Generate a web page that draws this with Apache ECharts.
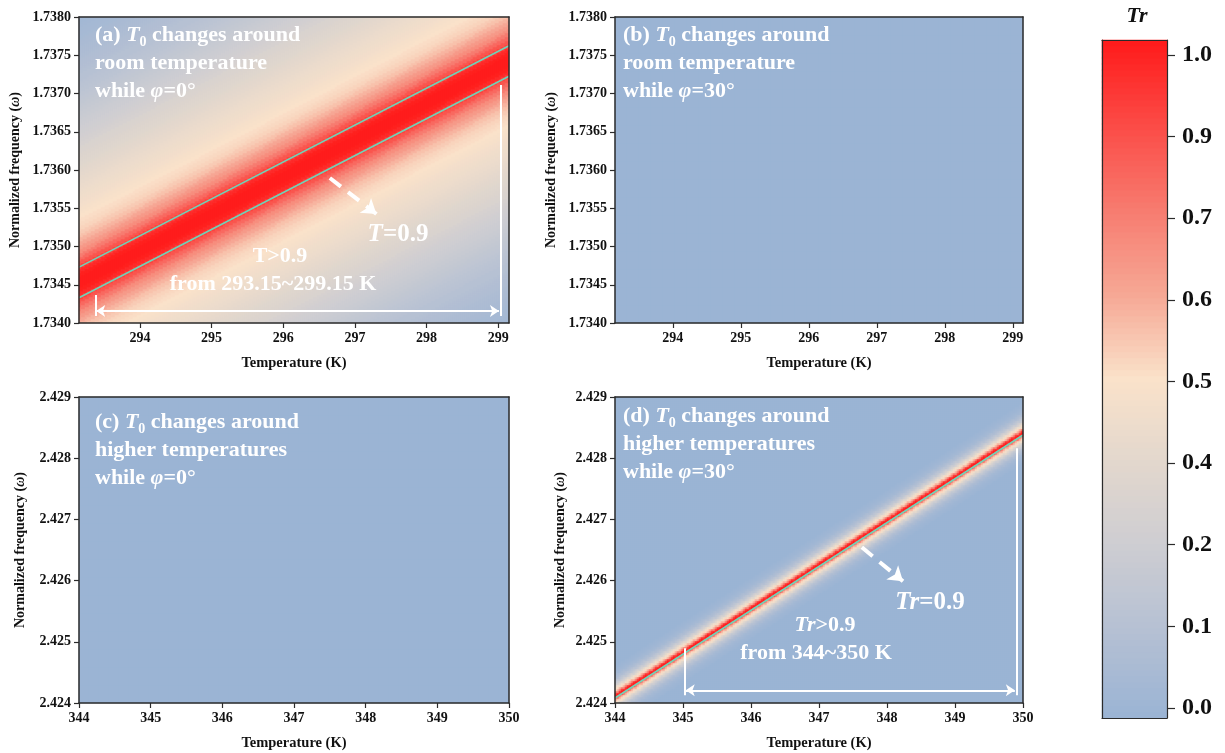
<!DOCTYPE html>
<html><head><meta charset="utf-8">
<script src="https://cdn.jsdelivr.net/npm/echarts@6/dist/echarts.min.js"></script>
<style>html,body{margin:0;padding:0;background:#fff}#c{width:1225px;height:753px}</style>
</head><body><div id="c"></div>
<script>
// ---------------- DATA ----------------
const tempRoom = [293.15, 299.15];          // x range of (a),(b)  [K]
const tempHigh = [344, 350];                // x range of (c),(d)  [K]
const freqRoom = [1.7340, 1.7380];          // y range of (a),(b)
const freqHigh = [2.424, 2.429];            // y range of (c),(d)
const xTicksRoom = [294, 295, 296, 297, 298, 299];
const barTickLabels = ['0.0', '0.1', '0.2', '0.4', '0.5', '0.6', '0.7', '0.9', '1.0'];

// centre of the transmission band (T, ω) at the two panel edges
const centreA = [[293.15, 1.73453], [299.15, 1.737425]];
const centreD = [[344, 2.42411], [350, 2.42841]];
// Tr = 0.9 contour lines
const contourA1 = [[293.15, 1.73473], [299.15, 1.737625]];
const contourA2 = [[293.15, 1.73433], [299.15, 1.737225]];
const contourD1 = [[344, 2.42408], [350, 2.42838]];

// cross-section of Tr versus vertical distance from the band centre
const profileStepA = 0.00005;
const profileA = [1.00, 1.00, 0.99, 0.96, 0.90, 0.85, 0.80, 0.75, 0.70, 0.665,
  0.63, 0.60, 0.57, 0.55, 0.53, 0.52, 0.51, 0.50, 0.49, 0.48,
  0.47, 0.46, 0.45, 0.44, 0.43, 0.42, 0.41, 0.40, 0.39, 0.38,
  0.37, 0.36, 0.35, 0.34, 0.33, 0.32, 0.305, 0.29, 0.28, 0.27,
  0.26, 0.25, 0.24, 0.23, 0.22, 0.21, 0.20, 0.19, 0.18, 0.17,
  0.16, 0.152, 0.144, 0.136, 0.13, 0.122, 0.115, 0.108, 0.10, 0.093,
  0.086, 0.08, 0.07, 0.065, 0.06, 0.055, 0.05, 0.045, 0.04, 0.035, 0.03];
const profileStepD = 0.000025;
const profileD = [1.0, 0.94, 0.75, 0.60, 0.52, 0.45, 0.37, 0.30, 0.24, 0.19,
  0.15, 0.12, 0.09, 0.07, 0.05, 0.04, 0.03, 0.02, 0.015, 0.01, 0.0];
const trFlatB = 0;   // panel (b): Tr ~ 0 everywhere
const trFlatC = 0;   // panel (c): Tr ~ 0 everywhere

// annotation marks (data coordinates)
const arrowA = [[296.65, 1.735895], [297.30, 1.735425]];
const spanA = [[293.39, 1.734157], [299.01, 1.734157]];
const barLA = [[293.38, 1.734366], [293.38, 1.734092]];
const barRA = [[299.03, 1.737111], [299.03, 1.734092]];
const arrowD = [[347.63, 2.426544], [348.235, 2.425989]];
const spanD = [[345.04, 2.424208], [349.88, 2.424208]];
const barLD = [[345.03, 2.424894], [345.03, 2.424126]];
const barRD = [[349.91, 2.428162], [349.91, 2.424126]];

// ---------------- BUILD ----------------
const serif = 'Liberation Serif';
const axisColor = '#2b2b2b';
const palette = ['#9bb4d4', '#b5c0d3', '#cdcdd2', '#e2d7cd', '#fae2ca', '#f6a895', '#f77c70', '#fb4c47', '#ff1c1c'];

function buildField(T, F, nx, ny, centre, step, profile, flat) {
  const data = [];
  const slope = centre ? (centre[1][1] - centre[0][1]) / (centre[1][0] - centre[0][0]) : 0;
  for (let i = 0; i < nx; i++) {
    const t = T[0] + (i + 0.5) * (T[1] - T[0]) / nx;
    const fc = centre ? centre[0][1] + slope * (t - centre[0][0]) : 0;
    for (let j = 0; j < ny; j++) {
      if (!centre) { data.push([i, j, flat]); continue; }
      const f = F[0] + (j + 0.5) * (F[1] - F[0]) / ny;
      let k = Math.round(Math.abs(f - fc) / step);
      if (k >= profile.length) k = profile.length - 1;
      data.push([i, j, profile[k]]);
    }
  }
  return data;
}
const idx = n => Array.from({length: n}, (_, i) => i);

const panels = [
  {grid: {left: 79, top: 17, width: 430, height: 306}, T: tempRoom, F: freqRoom, yInt: 0.0005, dec: 4,
   nx: 215, ny: 153, centre: centreA, step: profileStepA, profile: profileA, flat: 0, yGap: 57, custom: xTicksRoom},
  {grid: {left: 615, top: 17, width: 408, height: 306}, T: tempRoom, F: freqRoom, yInt: 0.0005, dec: 4,
   nx: 34, ny: 17, centre: null, flat: trFlatB, yGap: 57, custom: xTicksRoom},
  {grid: {left: 79, top: 397, width: 430, height: 306}, T: tempHigh, F: freqHigh, yInt: 0.001, dec: 3,
   nx: 43, ny: 17, centre: null, flat: trFlatC, yGap: 52, custom: null},
  {grid: {left: 615, top: 397, width: 408, height: 306}, T: tempHigh, F: freqHigh, yInt: 0.001, dec: 3,
   nx: 204, ny: 153, centre: centreD, step: profileStepD, profile: profileD, flat: 0, yGap: 48, custom: null}
];

const grids = [], xAxes = [], yAxes = [], series = [];
const lineStyleAxis = {color: axisColor, width: 1.5};
const labelStyle = {fontFamily: serif, fontWeight: 'bold', fontSize: 14, color: '#111'};
const nameStyle = {fontFamily: serif, fontWeight: 'bold', fontSize: 14.5, color: '#111'};

panels.forEach((p, g) => {
  grids.push(Object.assign({containLabel: false, show: true, backgroundColor: palette[0], borderWidth: 0}, p.grid));
  const xv = {type: 'value', gridIndex: g, min: p.T[0], max: p.T[1], position: 'bottom', z: 10,
    axisLine: {show: true, onZero: false, lineStyle: lineStyleAxis},
    axisTick: {show: true, inside: false, length: 5, lineStyle: {color: axisColor, width: 1.2}},
    axisLabel: Object.assign({margin: 8, formatter: v => String(Math.round(v))}, labelStyle),
    splitLine: {show: false},
    name: 'Temperature (K)', nameLocation: 'middle', nameGap: 33, nameTextStyle: nameStyle};
  if (p.custom) {
    xv.axisTick.customValues = p.custom;
    xv.axisLabel.customValues = p.custom;
  } else {
    xv.interval = 1;
  }
  xAxes.push(xv);
  xAxes.push({type: 'category', gridIndex: g, data: idx(p.nx), position: 'top', z: 10,
    axisLine: {show: true, onZero: false, lineStyle: lineStyleAxis}, axisTick: {show: false}, axisLabel: {show: false}, splitLine: {show: false}});
  yAxes.push({type: 'value', gridIndex: g, min: p.F[0], max: p.F[1], interval: p.yInt, position: 'left', z: 10,
    axisLine: {show: true, onZero: false, lineStyle: lineStyleAxis},
    axisTick: {show: true, inside: false, length: 5, lineStyle: {color: axisColor, width: 1.2}},
    axisLabel: Object.assign({margin: 8, formatter: v => v.toFixed(p.dec)}, labelStyle),
    splitLine: {show: false},
    name: '{b|Normalized frequency (}{i|ω}{b|)}', nameLocation: 'middle', nameGap: p.yGap,
    nameTextStyle: {rich: {
      b: {fontFamily: serif, fontWeight: 'bold', fontSize: 14, color: '#111'},
      i: {fontFamily: serif, fontWeight: 'bold', fontStyle: 'italic', fontSize: 14, color: '#111'}}}});
  yAxes.push({type: 'category', gridIndex: g, data: idx(p.ny), position: 'right', z: 10,
    axisLine: {show: true, onZero: false, lineStyle: lineStyleAxis}, axisTick: {show: false}, axisLabel: {show: false}, splitLine: {show: false}});
});

// colorbar grid (index 4): 113 levels of 6 px each
const cbLevels = idx(113).map(j => j / 112);
grids.push({left: 1102, top: 40, width: 65, height: 678, show: true, backgroundColor: palette[0], borderWidth: 0});
xAxes.push({type: 'category', gridIndex: 4, data: ['Tr'], position: 'bottom', z: 10,
  axisLine: {show: true, onZero: false, lineStyle: {color: axisColor, width: 1.2}}, axisTick: {show: false}, axisLabel: {show: false}});
xAxes.push({type: 'value', gridIndex: 4, min: 0, max: 1, position: 'top', z: 10,
  axisLine: {show: true, onZero: false, lineStyle: {color: axisColor, width: 1.2}}, axisTick: {show: false}, axisLabel: {show: false}, splitLine: {show: false}});
yAxes.push({type: 'category', gridIndex: 4, data: idx(cbLevels.length), position: 'left', z: 10,
  axisLine: {show: true, onZero: false, lineStyle: {color: axisColor, width: 1.2}}, axisTick: {show: false}, axisLabel: {show: false}});
yAxes.push({type: 'value', gridIndex: 4, min: -10 / 81.6, max: 8 + 15 / 81.6, position: 'right', z: 10,
  axisLine: {show: true, onZero: false, lineStyle: {color: axisColor, width: 1.2}},
  axisTick: {show: true, length: 8, customValues: idx(barTickLabels.length), lineStyle: {color: axisColor, width: 1.2}},
  axisLabel: {show: true, margin: 15, customValues: idx(barTickLabels.length), formatter: v => barTickLabels[Math.round(v)],
    fontFamily: serif, fontWeight: 'bold', fontSize: 24, color: '#111'},
  splitLine: {show: false}});

// heatmaps
panels.forEach((p, g) => {
  series.push({type: 'heatmap', xAxisIndex: 2 * g + 1, yAxisIndex: 2 * g + 1, silent: true, progressive: 0,
    emphasis: {disabled: true}, itemStyle: {borderWidth: 0},
    data: buildField(p.T, p.F, p.nx, p.ny, p.centre, p.step, p.profile, p.flat)});
});
series.push({type: 'heatmap', xAxisIndex: 8, yAxisIndex: 8, silent: true, progressive: 0,
  emphasis: {disabled: true}, data: cbLevels.map((v, j) => [0, j, v])});

// contour lines
const cyan = '#6fd3b8';
[[contourA1, 0, 1.6], [contourA2, 0, 1.6], [contourD1, 3, 1.8]].forEach(([d, g, w]) => {
  series.push({type: 'line', xAxisIndex: 2 * g, yAxisIndex: 2 * g, data: d, showSymbol: false, silent: true,
    lineStyle: {color: cyan, width: w}, z: 5});
});
// annotation arrows
function lines(g, coords, opts) {
  series.push(Object.assign({type: 'lines', coordinateSystem: 'cartesian2d', xAxisIndex: 2 * g, yAxisIndex: 2 * g,
    silent: true, z: 6, data: [{coords}]}, opts));
}
const dashed = {symbol: ['none', 'arrow'], symbolSize: 14, lineStyle: {color: '#fff', width: 4, type: [14, 9], opacity: 1}};
const span = {symbol: ['arrow', 'arrow'], symbolSize: 9, lineStyle: {color: '#fff', width: 2, opacity: 1}};
const bar = {symbol: ['none', 'none'], lineStyle: {color: '#fff', width: 2, opacity: 1}};
lines(0, arrowA, dashed); lines(0, spanA, span); lines(0, barLA, bar); lines(0, barRA, bar);
lines(3, arrowD, dashed); lines(3, spanD, span); lines(3, barLD, bar); lines(3, barRD, bar);

// texts
function rich(size, lh) {
  return {
    b: {fontFamily: serif, fontWeight: 'bold', fontSize: size, lineHeight: lh, fill: '#fff'},
    i: {fontFamily: serif, fontWeight: 'bold', fontStyle: 'italic', fontSize: size, lineHeight: lh, fill: '#fff'},
    s: {fontFamily: serif, fontWeight: 'bold', fontSize: Math.round(size * 0.62), lineHeight: Math.round(size * 0.62), verticalAlign: 'bottom', fill: '#fff'}
  };
}
function txt(x, y, text, size, lh, align, va) {
  return {type: 'text', x, y, silent: true, z: 20,
    style: {text, rich: rich(size, lh), fill: '#fff', align: align || 'left', verticalAlign: va || 'top'}};
}
const graphics = [
  txt(95, 21, '{b|(a) }{i|T}{s|0}{b| changes around}\n{b|room temperature}\n{b|while }{i|φ}{b|=0°}', 22, 28),
  txt(623, 21, '{b|(b) }{i|T}{s|0}{b| changes around}\n{b|room temperature}\n{b|while }{i|φ}{b|=30°}', 22, 28),
  txt(95, 408, '{b|(c) }{i|T}{s|0}{b| changes around}\n{b|higher temperatures}\n{b|while }{i|φ}{b|=0°}', 22, 28),
  txt(623, 402, '{b|(d) }{i|T}{s|0}{b| changes around}\n{b|higher temperatures}\n{b|while }{i|φ}{b|=30°}', 22, 28),
  txt(398, 235, '{i|T}{b|=0.9}', 25, 30, 'center', 'middle'),
  txt(280, 256, '{b|T>0.9}', 22, 28, 'center', 'middle'),
  txt(273, 284, '{b|from 293.15~299.15 K}', 22, 28, 'center', 'middle'),
  txt(930, 603, '{i|Tr}{b|=0.9}', 25, 30, 'center', 'middle'),
  txt(825, 625, '{i|Tr}{b|>0.9}', 22, 28, 'center', 'middle'),
  txt(816, 653, '{b|from 344~350 K}', 22, 28, 'center', 'middle'),
  {type: 'text', x: 1137, y: 16, silent: true,
   style: {text: 'Tr', fontFamily: serif, fontWeight: 'bold', fontStyle: 'italic', fontSize: 22, fill: '#111', align: 'center', verticalAlign: 'middle'}}
];

const chart = echarts.init(document.getElementById('c'), null, {renderer: 'canvas'});
chart.setOption({
  animation: false,
  backgroundColor: '#ffffff',
  grid: grids, xAxis: xAxes, yAxis: yAxes,
  visualMap: {type: 'continuous', show: false, min: 0, max: 1, dimension: 2, seriesIndex: [0, 1, 2, 3, 4],
    inRange: {color: palette}},
  series,
  graphic: graphics
});
</script></body></html>
